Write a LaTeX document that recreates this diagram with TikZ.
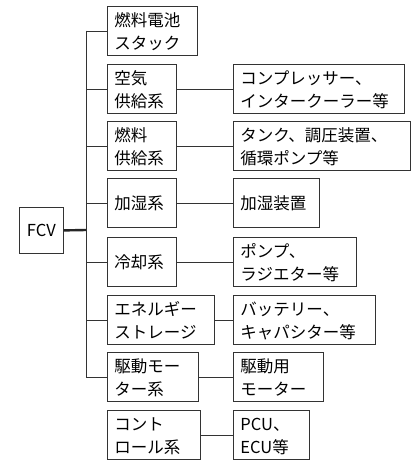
\documentclass[tikz,border=0pt]{standalone}
\usepackage{fontspec}
\newfontfamily\jpfont{Noto Sans CJK JP}
\tikzset{
  bx/.style={draw=black!80, line width=0.8pt, anchor=north west, align=left,
    inner xsep=7pt, inner ysep=0pt, text height=20pt, text depth=29pt,
    font=\jpfont\fontsize{16.5}{23}\selectfont},
  one/.style={text height=31pt, text depth=18pt},
  ln/.style={draw=black!80, line width=0.8pt},
}
\begin{document}
\begin{tikzpicture}[x=1pt,y=-1pt]
\useasboundingbox (0,0) rectangle (413,461);
\node[bx, one, text width=30pt, align=center, text height=29pt, text depth=17pt] (fcv) at (19,207) {FCV};
\node[bx, text width=76pt] (b1) at (107,6) {燃料電池\\スタック};
\node[bx, text width=55pt] (b2) at (107,64) {空気\\供給系};
\node[bx, text width=55pt] (b3) at (107,121) {燃料\\供給系};
\node[bx, one, text width=55pt] (b4) at (107,178) {加湿系};
\node[bx, one, text width=55pt] (b5) at (107,237) {冷却系};
\node[bx, text width=93pt] (b6) at (107,295) {エネルギー\\ストレージ};
\node[bx, text width=77pt] (b7) at (107,352) {駆動モー\\ター系};
\node[bx, text width=79pt] (b8) at (107,410) {コント\\ロール系};
\node[bx, text width=157pt] (r2) at (233,64) {コンプレッサー、\\インタークーラー等};
\node[bx, text width=163pt] (r3) at (233,121) {タンク、調圧装置、\\循環ポンプ等};
\node[bx, one, text width=72pt] (r4) at (233,178) {加湿装置};
\node[bx, text width=109pt] (r5) at (233,237) {ポンプ、\\ラジエター等};
\node[bx, text width=128pt] (r6) at (233,295) {バッテリー、\\キャパシター等};
\node[bx, text width=76pt] (r7) at (233,352) {駆動用\\モーター};
\node[bx, text width=62pt] (r8) at (233,410) {PCU、\\ECU等};
\coordinate (top) at (86,30.5);
\coordinate (bot) at (86,376.5);
\coordinate (mid) at (86,230);
\draw[ln] (top) -- (bot);
\draw[draw=black!85, line width=2.4pt] (fcv.east) -- (mid);
\foreach \b in {b1,b2,b3,b4,b5,b6,b7} {
  \draw[ln] (\b.west) -- (\b.west -| top);
}
\foreach \b/\r in {b2/r2,b3/r3,b4/r4,b5/r5,b6/r6,b7/r7,b8/r8} {
  \draw[ln] (\b.east) -- (\r.west);
}
\end{tikzpicture}
\end{document}
